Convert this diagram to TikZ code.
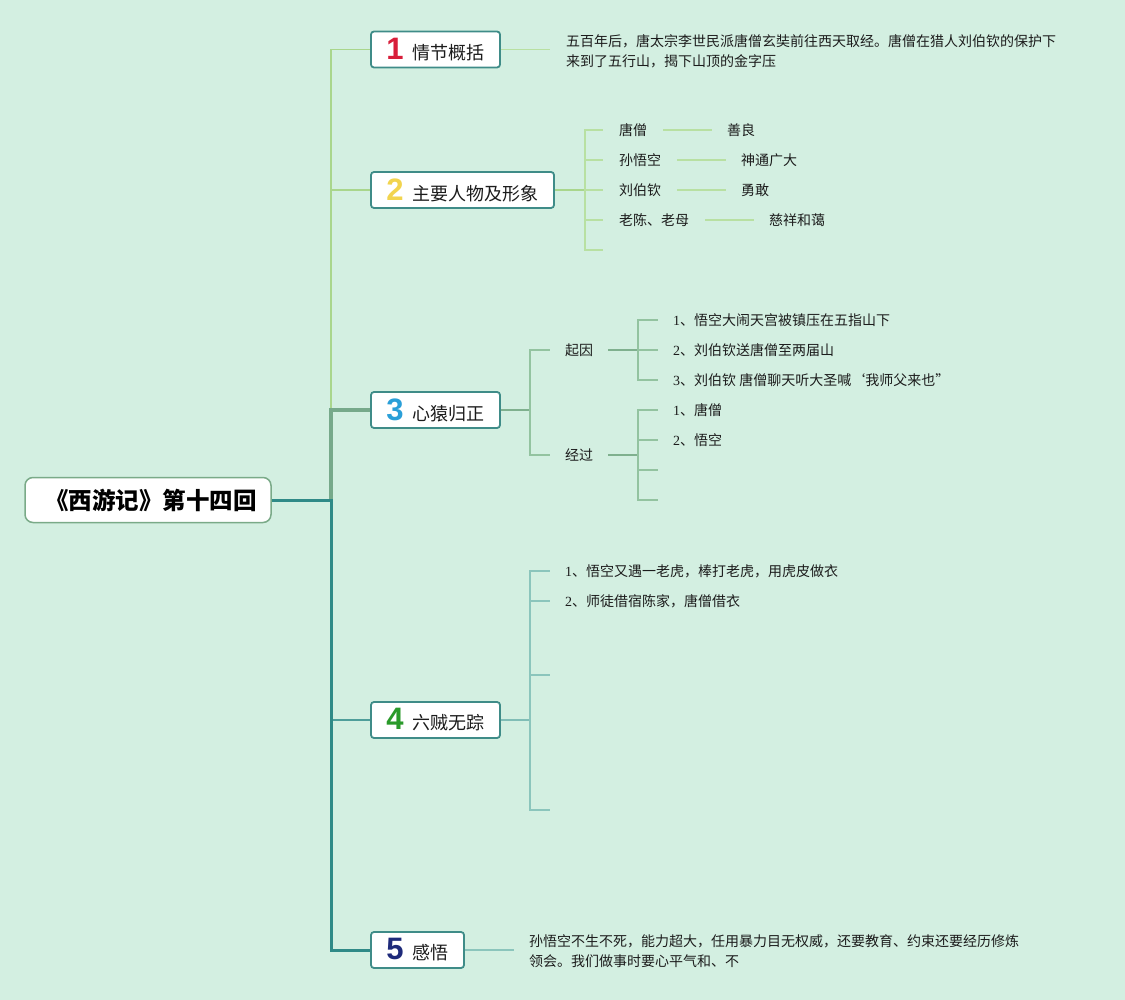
\documentclass[tikz,border=0pt]{standalone}
\usepackage{fontspec}
\setmainfont{Noto Sans CJK SC}
\newfontfamily\digitfont{Liberation Sans}
\newfontfamily\sd{Liberation Serif}
\definecolor{bgc}{HTML}{D3EFE1}
\definecolor{txt}{HTML}{1C1C1C}
\definecolor{boxc}{HTML}{3F8C88}
\definecolor{rootc}{HTML}{7AAA88}
\definecolor{trunk}{HTML}{2F8A87}
\definecolor{thickg}{HTML}{76A98A}
\definecolor{yg}{HTML}{A9D68C}
\definecolor{yg2}{HTML}{B8E0A2}
\definecolor{gg}{HTML}{7FB08E}
\definecolor{gg2}{HTML}{93C3A0}
\definecolor{tl}{HTML}{4E9E9A}
\definecolor{tl2}{HTML}{80BDB6}
\definecolor{tl3}{HTML}{8BC5BC}
\definecolor{n1}{HTML}{D81E3A}
\definecolor{n2}{HTML}{F2D44E}
\definecolor{n3}{HTML}{2A9FD8}
\definecolor{n4}{HTML}{2A9A2A}
\definecolor{n5}{HTML}{1E2A7A}
\newcommand\topicnum[2]{{\digitfont\bfseries\fontsize{31}{31}\selectfont\color{#1}#2}\hspace{9pt}}
\begin{document}
\begin{tikzpicture}[x=1pt,y=-1pt,
  topic/.style={draw=boxc, line width=1.8pt, fill=white, rounded corners=3pt,
    minimum height=36pt, inner sep=0pt, text=txt, font=\fontsize{18}{20}\selectfont},
  rootbox/.style={draw=rootc, line width=1.5pt, fill=white, rounded corners=8pt,
    minimum width=246pt, minimum height=45pt, inner sep=0pt, text=black,
    font=\fontsize{23.5}{25}\selectfont\bfseries},
  lbl/.style={anchor=west, inner xsep=15pt, inner ysep=0pt, text=txt,
    font=\fontsize{14}{19.5}\selectfont},
  lbl16/.style={lbl, inner xsep=16pt},
  para/.style={lbl, align=left},
  thinl/.style={line width=1.3pt}
]
\fill[bgc] (0,0) rectangle (1125,1000);
\useasboundingbox (0,0) rectangle (1125,1000);

% root and topics
\node[rootbox] (root) at (148,500) {\hspace{6pt}《西游记》第十四回};
\node[topic, minimum width=129pt] (b1) at (435.5,49.5) {\topicnum{n1}{1}情节概括};
\node[topic, minimum width=183pt] (b2) at (462.5,190) {\topicnum{n2}{2}主要人物及形象};
\node[topic, minimum width=129pt] (b3) at (435.5,410) {\topicnum{n3}{3}心猿归正};
\node[topic, minimum width=129pt] (b4) at (435.5,720) {\topicnum{n4}{4}六贼无踪};
\node[topic, minimum width=93pt] (b5) at (417.5,950) {\topicnum{n5}{5}感悟};

% branch 1
\node[para, inner xsep=16pt] (p1) at (550,51.5) {五百年后，唐太宗李世民派唐僧玄奘前往西天取经。唐僧在猎人刘伯钦的保护下\\来到了五行山，揭下山顶的金字压};
\draw[yg2, thinl] (b1.east) -- (b1.east -| p1.west);

% branch 2
\coordinate (s2) at (585,190);
\node[lbl16] (c21) at (603,130) {唐僧};
\node[lbl16] (c22) at (603,160) {孙悟空};
\node[lbl16] (c23) at (603,190) {刘伯钦};
\node[lbl16] (c24) at (603,220) {老陈、老母};
\coordinate (e25) at (603,250);
\node[lbl] (d21) at (712,130) {善良};
\node[lbl] (d22) at (726,160) {神通广大};
\node[lbl] (d23) at (726,190) {勇敢};
\node[lbl] (d24) at (754,220) {慈祥和蔼};
\draw[yg, thinl] (b2.east) -- (s2);
\foreach \c in {c21,c22,c23,c24} \draw[yg2, thinl] (s2) |- (\c.west);
\draw[yg2, thinl] (s2) |- (e25);
\draw[yg2, thinl] (c21.east) -- (d21.west);
\draw[yg2, thinl] (c22.east) -- (d22.west);
\draw[yg2, thinl] (c23.east) -- (d23.west);
\draw[yg2, thinl] (c24.east) -- (d24.west);

% branch 3
\coordinate (s3) at (530,410);
\node[lbl] (g1) at (550,350) {起因};
\node[lbl] (g2) at (550,455) {经过};
\draw[gg, thinl] (b3.east) -- (s3);
\draw[gg2, thinl] (s3) |- (g1.west);
\draw[gg2, thinl] (s3) |- (g2.west);
\coordinate (s31) at (638,350);
\node[lbl] (h1) at (658,320) {{\sd 1}、悟空大闹天宫被镇压在五指山下};
\node[lbl] (h2) at (658,350) {{\sd 2}、刘伯钦送唐僧至两届山};
\node[lbl] (h3) at (658,380) {{\sd 3}、刘伯钦 唐僧聊天听大圣喊‘我师父来也”};
\draw[gg, line width=1.6pt] (g1.east) -- (s31);
\foreach \c in {h1,h2,h3} \draw[gg2, thinl] (s31) |- (\c.west);
\coordinate (s32) at (638,455);
\node[lbl] (k1) at (658,410) {{\sd 1}、唐僧};
\node[lbl] (k2) at (658,440) {{\sd 2}、悟空};
\coordinate (k3) at (658,470);
\coordinate (k4) at (658,500);
\draw[gg, line width=1.6pt] (g2.east) -- (s32);
\foreach \c in {k1.west,k2.west,k3,k4} \draw[gg2, thinl] (s32) |- (\c);

% branch 4
\coordinate (s4) at (530,720);
\node[lbl] (m1) at (550,571) {{\sd 1}、悟空又遇一老虎，棒打老虎，用虎皮做衣};
\node[lbl] (m2) at (550,601) {{\sd 2}、师徒借宿陈家，唐僧借衣};
\coordinate (m3) at (550,675);
\coordinate (m4) at (550,810);
\draw[tl2, thinl] (b4.east) -- (s4);
\foreach \c in {m1.west,m2.west,m3,m4} \draw[tl3, thinl] (s4) |- (\c);

% branch 5
\node[para] (q5) at (514,951) {孙悟空不生不死，能力超大，任用暴力目无权威，还要教育、约束还要经历修炼\\领会。我们做事时要心平气和、不};
\draw[tl3, thinl] (b5.east) -- (b5.east -| q5.west);

% trunk
\coordinate (T) at (331,500);
\coordinate (T3) at (331,410);
\draw[yg, thinl] (T3) |- (b1.west);
\draw[yg, thinl] (T3) |- (b2.west);
\draw[tl, line width=1.6pt] (T) |- (b4.west);
\draw[thickg, line width=4.5pt] (T) |- (b3.west);
\draw[trunk, line width=3pt] (root.east) -- (T) |- (b5.west);
\end{tikzpicture}
\end{document}
